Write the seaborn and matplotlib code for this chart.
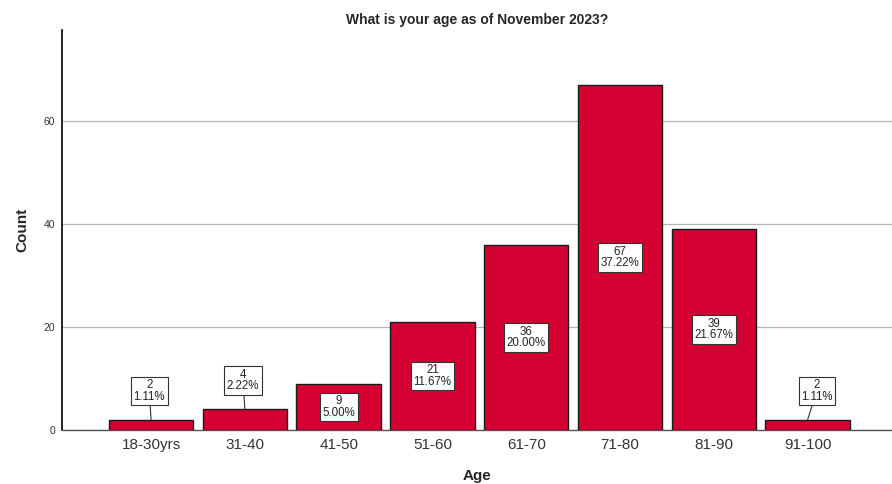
import matplotlib
matplotlib.use("Agg")
import matplotlib.pyplot as plt
import seaborn as sns
import pandas as pd

age_groups = ["18-30yrs", "31-40", "41-50", "51-60", "61-70", "71-80", "81-90", "91-100"]
counts = [2, 4, 9, 21, 36, 67, 39, 2]
percents = ["1.11%", "2.22%", "5.00%", "11.67%", "20.00%", "37.22%", "21.67%", "1.11%"]

sns.set_theme(style="white")
plt.rcParams["font.family"] = ["Liberation Sans", "DejaVu Sans"]

df = pd.DataFrame({"Age": age_groups, "Count": counts})

fig = plt.figure(figsize=(8.92, 4.84), dpi=100)
ax = fig.add_axes([0.0695, 0.1116, 0.9305, 0.8264])

sns.barplot(data=df, x="Age", y="Count", order=age_groups, color="#D50032",
            saturation=1, width=0.9, edgecolor="#1a1a1a", linewidth=1.0, ax=ax, zorder=3)

ax.set_xlim(-0.95, 7.9)
ax.set_ylim(0, 77.7)
ax.set_yticks([0, 20, 40, 60])
ax.yaxis.grid(True, color="#b4b4b4", linewidth=0.9, zorder=0)
ax.xaxis.grid(False)
ax.set_axisbelow(True)

for side in ["top", "right"]:
    ax.spines[side].set_visible(False)
ax.spines["left"].set_color("black")
ax.spines["left"].set_linewidth(1.2)
ax.spines["bottom"].set_color("#555555")
ax.spines["bottom"].set_linewidth(1.0)

ax.tick_params(axis="x", labelsize=11, labelcolor="#333333", length=0, pad=6)
ax.tick_params(axis="y", labelsize=7.5, labelcolor="#333333", length=0, pad=5)

ax.set_xlabel("Age", fontsize=11, fontweight="bold", labelpad=12)
ax.set_ylabel("Count", fontsize=11, fontweight="bold", labelpad=10)
ax.set_title("What is your age as of November 2023?", fontsize=10, fontweight="bold", pad=4)

box = dict(boxstyle="square,pad=0.22", facecolor="white", edgecolor="#333333", linewidth=0.8)
for i, (c, p) in enumerate(zip(counts, percents)):
    label = f"{c}\n{p}"
    if c >= 8:
        ax.text(i, c / 2, label, ha="center", va="center", fontsize=8.3,
                linespacing=0.95, bbox=box, zorder=5, color="#222222")
    else:
        tx = i + 0.1 if i == 7 else i - 0.02
        ax.annotate(label, xy=(i, c), xytext=(tx, c + 5.6),
                    ha="center", va="center", fontsize=8.3, linespacing=0.95, bbox=box,
                    color="#222222", zorder=5,
                    arrowprops=dict(arrowstyle="-", color="#333333", linewidth=0.8,
                                    shrinkA=0, shrinkB=0))

fig.savefig("out.png", dpi=100)
